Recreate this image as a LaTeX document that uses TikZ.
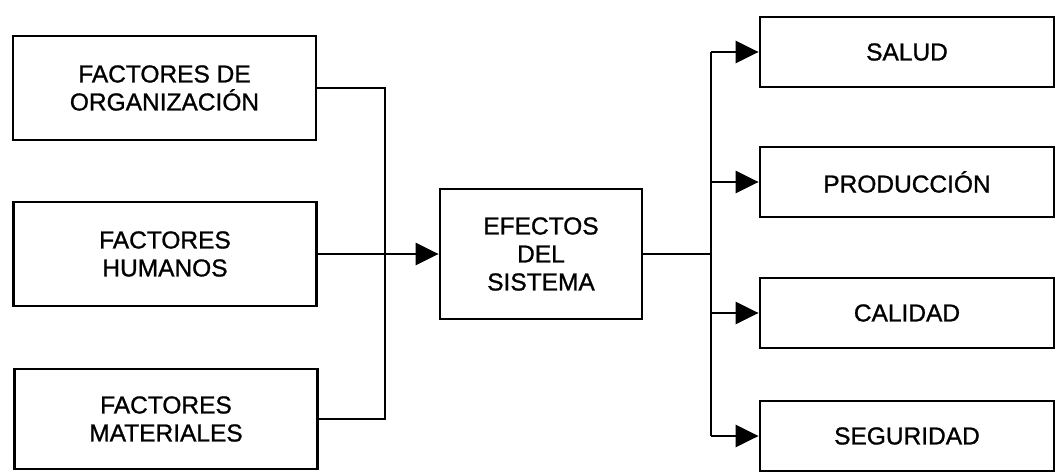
\documentclass[tikz,border=0pt]{standalone}
\usepackage{fontspec}
\setmainfont{Liberation Sans}[BoldFont={Liberation Sans},BoldFeatures={FakeBold=1}]
\usetikzlibrary{arrows.meta}
\begin{document}
\begin{tikzpicture}[x=1pt,y=-1pt,
    caja/.style={draw,line width=2.8pt,align=center,inner sep=0pt,
      font=\fontsize{24.5}{28}\selectfont\bfseries},
    izq/.style={caja,minimum width=303pt,minimum height=104pt},
    der/.style={caja,minimum width=294pt,minimum height=70pt},
    linea/.style={line width=2.8pt},
    flecha/.style={line width=2.8pt,-{Triangle[length=23pt,width=22pt]}}]
  \useasboundingbox (0,0) rectangle (1059,473);
  % Factores
  \node[izq] (org) at (164.5,88) {FACTORES DE\\ORGANIZACIÓN};
  \node[izq] (hum) at (165,254) {FACTORES\\HUMANOS};
  \node[izq,minimum height=100pt] (mat) at (166,419) {FACTORES\\MATERIALES};
  % Efectos
  \node[caja,minimum width=202pt,minimum height=130pt] (efe) at (541,254) {EFECTOS\\DEL\\SISTEMA};
  % Resultados
  \node[der] (sal) at (907,52) {SALUD};
  \node[der] (pro) at (907,182) {PRODUCCIÓN};
  \node[der] (cal) at (907,313) {CALIDAD};
  \node[der] (seg) at (907,436) {SEGURIDAD};
  \coordinate (busL) at (385,254);
  \coordinate (busR) at (711,254);
  \draw[linea] (org.east) -| (busL) |- (mat.east);
  \draw[flecha] (hum.east) -- (efe.west);
  \draw[linea] (efe.east) -- (busR);
  \draw[linea] (busR |- sal.west) -- (busR |- seg.west);
  \foreach \n in {sal,pro,cal,seg}
    \draw[flecha] (busR |- \n.west) -- (\n.west);
\end{tikzpicture}
\end{document}
